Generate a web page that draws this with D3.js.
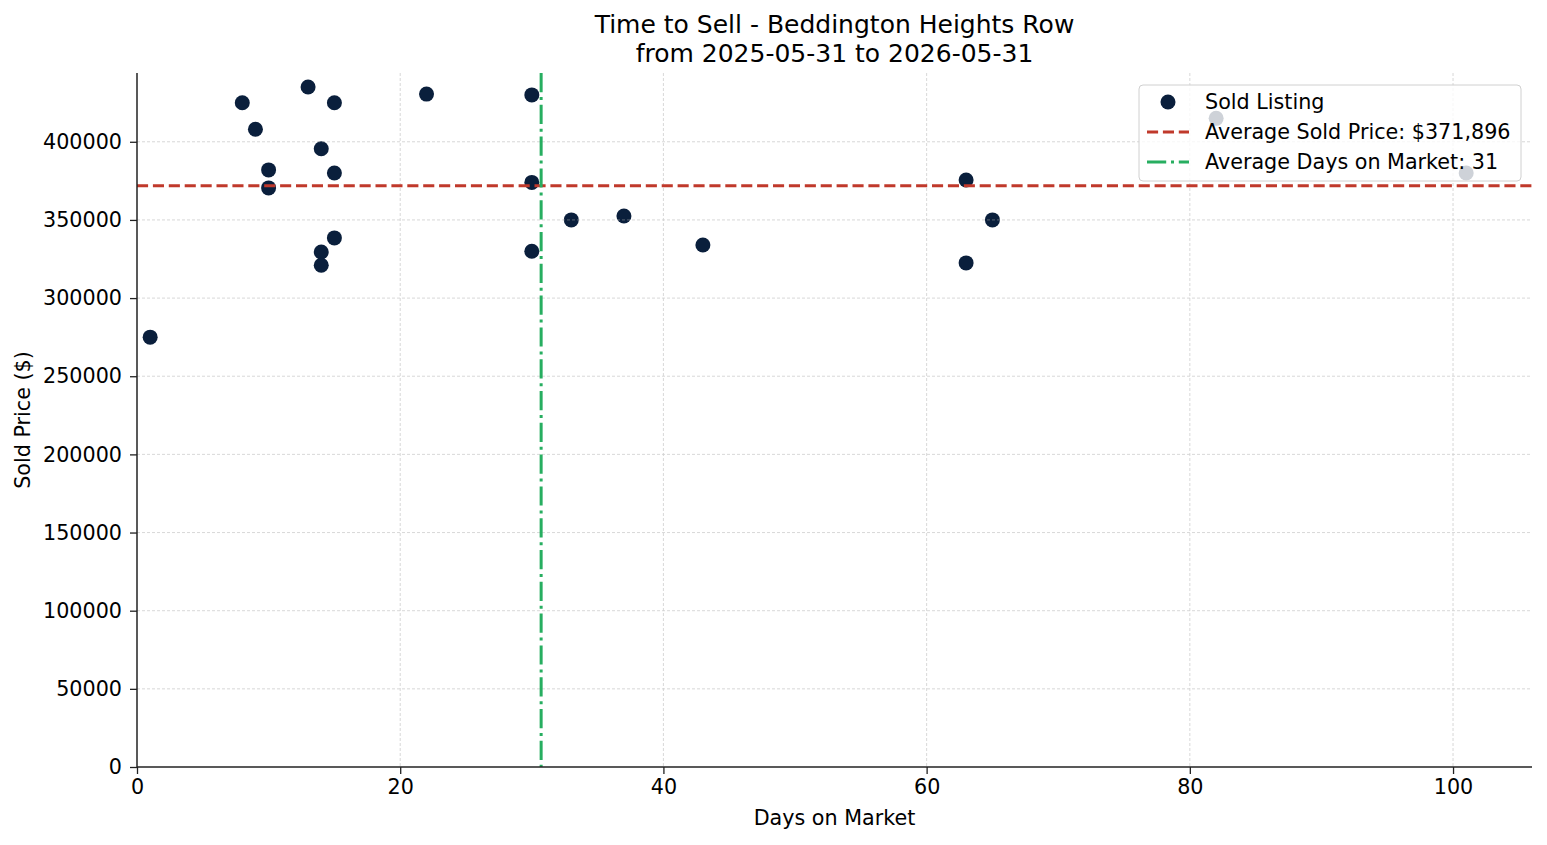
<!DOCTYPE html>
<html>
<head>
<meta charset="utf-8">
<script src="https://cdn.jsdelivr.net/npm/d3@7"></script>
<style>
  body { margin: 0; background: #fff; }
  text { font-family: "DejaVu Sans", sans-serif; }
</style>
</head>
<body>
<div id="chart"></div>
<script>
// sold listings: days on market and sold price
var days = [1, 8, 9, 10, 10, 13, 14, 14, 14, 15, 15, 15, 22, 30, 30, 30, 33, 37, 43, 63, 63, 65, 82, 101];
var prices = [275000, 425000, 408000, 382000, 370500, 435000, 395500, 329500, 321000, 425000, 380000, 338500,
              430500, 430000, 374000, 330000, 350000, 352500, 334000, 375500, 322500, 350000, 415000, 380000];
var avgPrice = 371896;
var xTicks = [0, 20, 40, 60, 80, 100];
var yTicks = [0, 50000, 100000, 150000, 200000, 250000, 300000, 350000, 400000];

var w = 1547, h = 845,
    margin = {top: 73, right: 15, bottom: 78, left: 137};

var avgDays = d3.mean(days);

var svg = d3.select("#chart").append("svg")
      .attr("width", w)
      .attr("height", h);

var x = d3.scaleLinear().domain([0, 106]).range([margin.left, w - margin.right]);
var y = d3.scaleLinear().domain([0, 444000]).range([h - margin.bottom, margin.top]);

// title
svg.append("text")
  .attr("x", (margin.left + w - margin.right) / 2)
  .attr("y", 33)
  .attr("text-anchor", "middle")
  .style("font-size", "25px")
  .text("Time to Sell - Beddington Heights Row");
svg.append("text")
  .attr("x", (margin.left + w - margin.right) / 2)
  .attr("y", 62)
  .attr("text-anchor", "middle")
  .style("font-size", "25px")
  .text("from 2025-05-31 to 2026-05-31");

var points = svg.append("g");
points.selectAll("circle")
  .data(days)
  .enter().append("circle")
  .attr("cx", (d) => x(d))
  .attr("cy", (d, i) => y(prices[i]))
  .attr("r", 7.5)
  .attr("fill", "#0a1f3c");

// grid (drawn over the points, like the original)
var grid = svg.append("g")
      .attr("stroke", "#b0b0b0")
      .attr("stroke-width", 0.8)
      .attr("stroke-dasharray", "3,2")
      .attr("opacity", 0.6);
grid.selectAll("line.gx")
  .data(xTicks.filter((d) => d > 0))
  .enter().append("line")
  .attr("x1", (d) => x(d)).attr("x2", (d) => x(d))
  .attr("y1", margin.top).attr("y2", h - margin.bottom);
grid.selectAll("line.gy")
  .data(yTicks.filter((d) => d > 0))
  .enter().append("line")
  .attr("x1", margin.left).attr("x2", w - margin.right)
  .attr("y1", (d) => y(d)).attr("y2", (d) => y(d));

// average lines
svg.append("line")
  .attr("x1", margin.left).attr("x2", w - margin.right)
  .attr("y1", y(avgPrice)).attr("y2", y(avgPrice))
  .attr("stroke", "#c0392b")
  .attr("stroke-width", 3)
  .attr("stroke-dasharray", "11.1,4.8");
svg.append("line")
  .attr("x1", x(avgDays)).attr("x2", x(avgDays))
  .attr("y1", margin.top).attr("y2", h - margin.bottom)
  .attr("stroke", "#27ae60")
  .attr("stroke-width", 3)
  .attr("stroke-dasharray", "19.2,4.8,3,4.8");

// axes
var xAxis = svg.append("g")
      .attr("transform", "translate(0," + (h - margin.bottom) + ")")
      .call(d3.axisBottom(x).tickValues(xTicks).tickSize(7).tickPadding(5).tickFormat(d3.format("d")));
var yAxis = svg.append("g")
      .attr("transform", "translate(" + margin.left + ",0)")
      .call(d3.axisLeft(y).tickValues(yTicks).tickSize(7).tickPadding(8).tickFormat(d3.format("d")));
[xAxis, yAxis].forEach((a) => {
  a.select(".domain").attr("stroke", "#222").attr("stroke-width", 1.5);
  a.selectAll(".tick line").attr("stroke", "#222").attr("stroke-width", 1.3);
  a.selectAll(".tick text").style("font-size", "20.7px").attr("fill", "#000")
    .style("font-family", "DejaVu Sans, sans-serif");
});
xAxis.select(".domain").attr("d", "M" + margin.left + ",0H" + (w - margin.right));
yAxis.select(".domain").attr("d", "M0," + (h - margin.bottom) + "V" + margin.top);

svg.append("text")
  .attr("x", (margin.left + w - margin.right) / 2)
  .attr("y", 825)
  .attr("text-anchor", "middle")
  .style("font-size", "20.7px")
  .text("Days on Market");
svg.append("text")
  .attr("transform", "translate(30," + ((margin.top + h - margin.bottom) / 2) + ") rotate(-90)")
  .attr("text-anchor", "middle")
  .style("font-size", "20.7px")
  .text("Sold Price ($)");

// legend
var lg = svg.append("g").attr("transform", "translate(1139,85)");
lg.append("rect")
  .attr("width", 382).attr("height", 96)
  .attr("rx", 4)
  .attr("fill", "#fff").attr("fill-opacity", 0.8)
  .attr("stroke", "#d0d0d0").attr("stroke-width", 1);
var items = [
  {label: "Sold Listing", kind: "dot"},
  {label: "Average Sold Price: $" + d3.format(",")(avgPrice), kind: "dash"},
  {label: "Average Days on Market: " + Math.round(avgDays), kind: "dashdot"}
];
var it = lg.selectAll("g.item")
      .data(items)
      .enter().append("g")
      .attr("transform", (d, i) => "translate(0," + (17 + i * 30) + ")");
it.filter((d) => d.kind == "dot").append("circle")
  .attr("cx", 29).attr("cy", 0).attr("r", 7.5).attr("fill", "#0a1f3c");
it.filter((d) => d.kind == "dash").append("line")
  .attr("x1", 8).attr("x2", 50).attr("stroke", "#c0392b")
  .attr("stroke-width", 3).attr("stroke-dasharray", "11.1,4.8");
it.filter((d) => d.kind == "dashdot").append("line")
  .attr("x1", 8).attr("x2", 50).attr("stroke", "#27ae60")
  .attr("stroke-width", 3).attr("stroke-dasharray", "19.2,4.8,3,4.8");
it.append("text")
  .attr("x", 66).attr("dy", "0.35em")
  .style("font-size", "20.7px")
  .text((d) => d.label);
</script>
</body>
</html>
